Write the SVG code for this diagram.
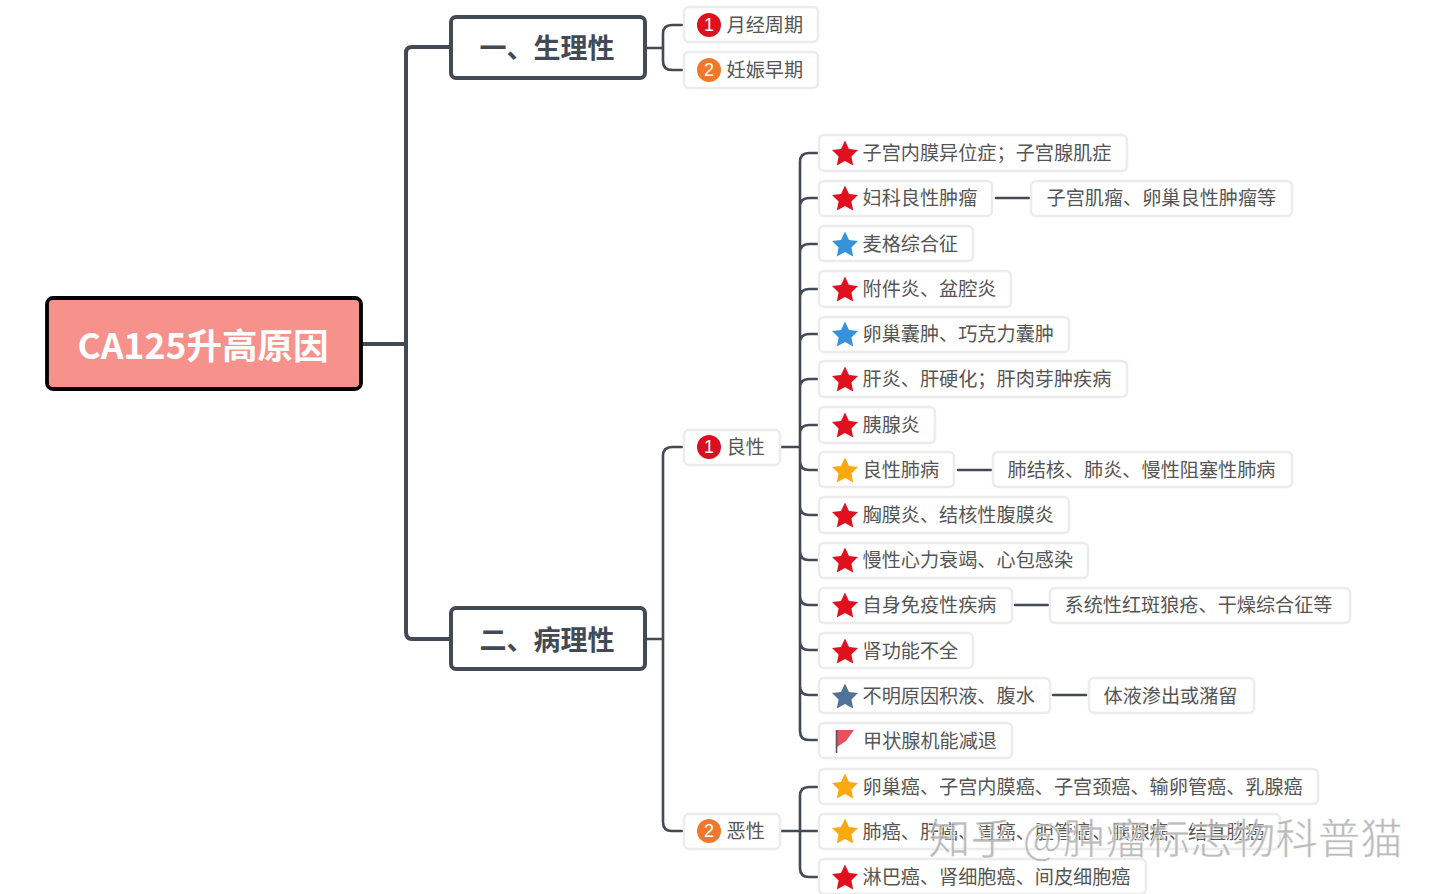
<svg xmlns="http://www.w3.org/2000/svg" width="1440" height="894" viewBox="0 0 1440 894">
<style>
text{font-family:"Noto Sans CJK SC","Noto Sans",sans-serif}
.c{fill:none;stroke:#414a55;stroke-width:2.6;stroke-linecap:round}
.t{fill:none;stroke:#414a55;stroke-width:4}
.b{fill:#fff;stroke:#ececec;stroke-width:2.5}
.l{font-size:19.15px;fill:#555;dominant-baseline:central}
.s{fill:#fff;stroke:#414a55;stroke-width:4}
.h{font-size:27px;font-weight:700;fill:#414a55;text-anchor:middle;dominant-baseline:central}
.n{font-size:18px;fill:#fff;text-anchor:middle;dominant-baseline:central;font-family:"Liberation Sans",sans-serif}
</style>
<defs>
<path id="star" d="M0,-13.5 L4,-5 L13,-4 L6.4,2.4 L8.2,11.5 L0,7 L-8.2,11.5 L-6.4,2.4 L-13,-4 L-4,-5 Z" stroke-linejoin="round" stroke-width="1"/>
</defs>
<rect width="1440" height="894" fill="#fff"/>
<g id="connectors">
<path class="t" d="M361,344H406M450,47H412Q406,47 406,53V632Q406,639 412,639H450"/>
<path class="c" d="M646,48H663M682,25H672Q663,25 663,34V61Q663,70 672,70H682"/>
<path class="c" d="M646,639H663M682,447H672Q663,447 663,456V822Q663,831 672,831H682"/>
<path class="c" d="M781,447H800M818,153H809Q800,153 800,162V731Q800,740 809,740H818M800,207Q800,198 809,198H818M800,253Q800,244 809,244H818M800,298Q800,289 809,289H818M800,343Q800,334 809,334H818M800,388Q800,379 809,379H818M800,434Q800,425 809,425H818M800,461Q800,470 809,470H818M800,506Q800,515 809,515H818M800,551Q800,560 809,560H818M800,596Q800,605 809,605H818M800,641Q800,650 809,650H818M800,686Q800,695 809,695H818"/>
<path class="c" d="M781,831H818M818,787H809Q800,787 800,796V868Q800,877 809,877H818"/>
<path class="c" d="M996,198H1029M958,470H991M1015,605H1048M1053,695H1086"/>
</g>
<g id="root"><rect x="47" y="298" width="314" height="91" rx="6" fill="#f7918b" stroke="#000" stroke-width="3.8"/><text x="203" y="343" font-size="35.5" font-weight="700" fill="#fff" text-anchor="middle" dominant-baseline="central">CA125升高原因</text></g>
<g id="topic1"><rect class="s" x="451" y="17" width="194" height="61" rx="5"/><text class="h" x="547" y="46">一、生理性</text></g>
<g id="topic2"><rect class="s" x="451" y="608" width="194" height="61" rx="5"/><text class="h" x="547" y="638">二、病理性</text></g>
<g id="a1"><rect class="b" x="684" y="7" width="134" height="35" rx="5"/><circle cx="709" cy="25" r="12" fill="#e0101e"/><text class="n" x="709" y="25">1</text><text class="l" x="726.500" y="23.500">月经周期</text></g>
<g id="a2"><rect class="b" x="684" y="52" width="134" height="36" rx="5"/><circle cx="709" cy="70" r="12" fill="#f0782a"/><text class="n" x="709" y="70">2</text><text class="l" x="726.500" y="68.500">妊娠早期</text></g>
<g id="b1"><rect class="b" x="684" y="430" width="96" height="35" rx="5"/><circle cx="709" cy="447" r="12" fill="#d9101f"/><text class="n" x="709" y="447">1</text><text class="l" x="726.500" y="445.500">良性</text></g>
<g id="b2"><rect class="b" x="684" y="814" width="96" height="35" rx="5"/><circle cx="709" cy="831" r="12" fill="#f0782a"/><text class="n" x="709" y="831">2</text><text class="l" x="726.500" y="830">恶性</text></g>
<g id="n1"><rect class="b" x="819" y="135" width="308" height="36" rx="5"/><use href="#star" x="845" y="154" fill="#e0101e"/><text class="l" x="862.500" y="151.500">子宫内膜异位症；子宫腺肌症</text></g>
<g id="n2"><rect class="b" x="819" y="181" width="173" height="35" rx="5"/><use href="#star" x="845" y="199" fill="#e0101e"/><text class="l" x="862.500" y="196.500">妇科良性肿瘤</text></g>
<g id="n2a"><rect class="b" x="1031" y="181" width="261" height="35" rx="5"/><text class="l" x="1046.500" y="196.500">子宫肌瘤、卵巢良性肿瘤等</text></g>
<g id="n3"><rect class="b" x="819" y="226" width="154" height="35" rx="5"/><use href="#star" x="845" y="245" fill="#3593dc"/><text class="l" x="862.500" y="242.500">麦格综合征</text></g>
<g id="n4"><rect class="b" x="819" y="271" width="192" height="36" rx="5"/><use href="#star" x="845" y="290" fill="#e0101e"/><text class="l" x="862.500" y="288">附件炎、盆腔炎</text></g>
<g id="n5"><rect class="b" x="819" y="317" width="250" height="35" rx="5"/><use href="#star" x="845" y="335" fill="#3593dc"/><text class="l" x="862.500" y="333">卵巢囊肿、巧克力囊肿</text></g>
<g id="n6"><rect class="b" x="819" y="361" width="308" height="36" rx="5"/><use href="#star" x="845" y="380" fill="#e0101e"/><text class="l" x="862.500" y="378">肝炎、肝硬化；肝肉芽肿疾病</text></g>
<g id="n7"><rect class="b" x="819" y="407" width="116" height="36" rx="5"/><use href="#star" x="845" y="426" fill="#e0101e"/><text class="l" x="862.500" y="423.500">胰腺炎</text></g>
<g id="n8"><rect class="b" x="819" y="452" width="135" height="35" rx="5"/><use href="#star" x="845" y="471" fill="#fba90f"/><text class="l" x="862.500" y="468.500">良性肺病</text></g>
<g id="n8a"><rect class="b" x="993" y="452" width="299" height="35" rx="5"/><text class="l" x="1007.500" y="468.500">肺结核、肺炎、慢性阻塞性肺病</text></g>
<g id="n9"><rect class="b" x="819" y="497" width="250" height="36" rx="5"/><use href="#star" x="845" y="516" fill="#e0101e"/><text class="l" x="862.500" y="513.500">胸膜炎、结核性腹膜炎</text></g>
<g id="n10"><rect class="b" x="819" y="543" width="269" height="35" rx="5"/><use href="#star" x="845" y="561" fill="#e0101e"/><text class="l" x="862.500" y="558.500">慢性心力衰竭、心包感染</text></g>
<g id="n11"><rect class="b" x="819" y="588" width="193" height="35" rx="5"/><use href="#star" x="845" y="606" fill="#e0101e"/><text class="l" x="862.500" y="604">自身免疫性疾病</text></g>
<g id="n11a"><rect class="b" x="1050" y="588" width="300" height="35" rx="5"/><text class="l" x="1064.500" y="604">系统性红斑狼疮、干燥综合征等</text></g>
<g id="n12"><rect class="b" x="819" y="633" width="154" height="35" rx="5"/><use href="#star" x="845" y="652" fill="#e0101e"/><text class="l" x="862.500" y="649.500">肾功能不全</text></g>
<g id="n13"><rect class="b" x="819" y="678" width="231" height="35" rx="5"/><use href="#star" x="845" y="697" fill="#4f7299"/><text class="l" x="862.500" y="694.500">不明原因积液、腹水</text></g>
<g id="n13a"><rect class="b" x="1089" y="678" width="165" height="35" rx="5"/><text class="l" x="1103.500" y="694.500">体液渗出或潴留</text></g>
<g id="n14"><rect class="b" x="819" y="723" width="193" height="35" rx="5"/><path d="M837,730H854L846,741L837,747Z" fill="#e8505f"/><path d="M836.500,730V753" stroke="#555" stroke-width="1.6"/><text class="l" x="863" y="739.500">甲状腺机能减退</text></g>
<g id="m1"><rect class="b" x="819" y="769" width="499" height="35" rx="5"/><use href="#star" x="845" y="787" fill="#fba90f"/><text class="l" x="862.500" y="785.500">卵巢癌、子宫内膜癌、子宫颈癌、输卵管癌、乳腺癌</text></g>
<g id="m2"><rect class="b" x="819" y="814" width="461" height="35" rx="5"/><use href="#star" x="845" y="832" fill="#fba90f"/><text class="l" x="862.500" y="830.500">肺癌、肝癌、胃癌、胆管癌、胰腺癌、结直肠癌</text></g>
<g id="m3"><rect class="b" x="819" y="859" width="327" height="35" rx="5"/><use href="#star" x="845" y="878" fill="#e0101e"/><text class="l" x="862.500" y="875.500">淋巴癌、肾细胞癌、间皮细胞癌</text></g>
<text x="928" y="835" font-size="42.500" fill="#aaa" fill-opacity=".8" stroke="#fff" stroke-width=".6" dominant-baseline="central">知乎 @肿瘤标志物科普猫</text>
</svg>
